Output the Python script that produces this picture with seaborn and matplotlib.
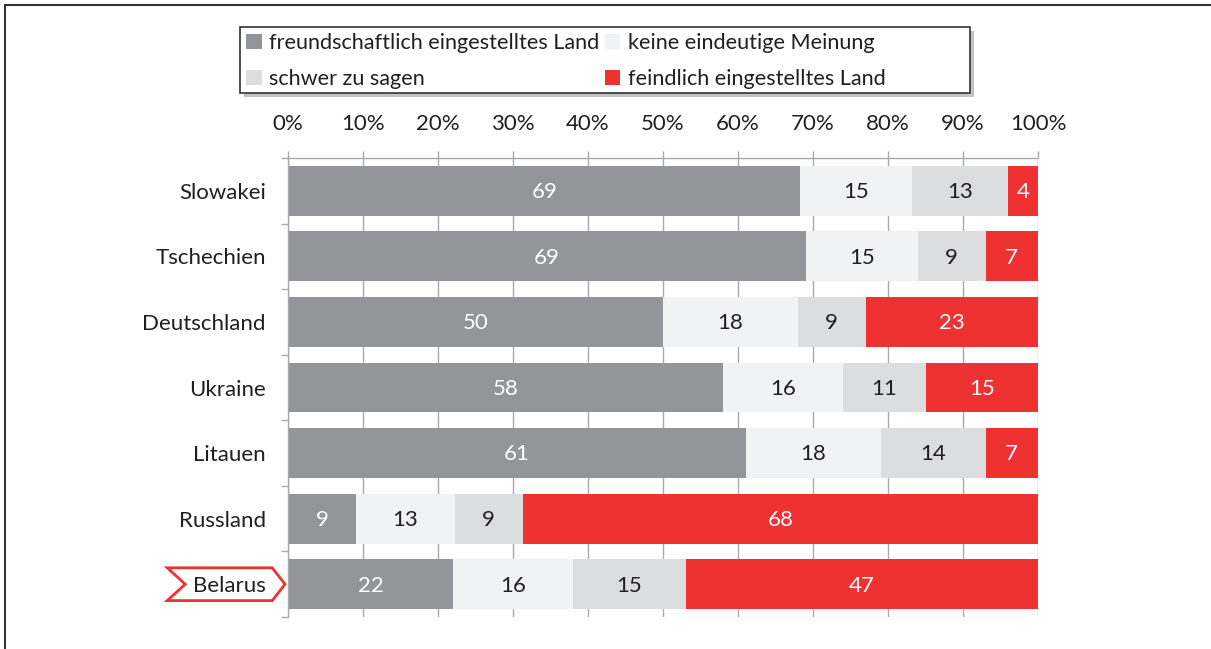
import matplotlib

matplotlib.use("Agg")
import matplotlib.pyplot as plt
import matplotlib.patches as mpatches
import matplotlib.transforms as mtransforms
from matplotlib.lines import Line2D
from matplotlib.ticker import FixedLocator, FuncFormatter, MultipleLocator
import numpy as np
import pandas as pd
import seaborn as sns

countries = ["Slowakei", "Tschechien", "Deutschland", "Ukraine", "Litauen", "Russland", "Belarus"]
categories = [
    "freundschaftlich eingestelltes Land",
    "keine eindeutige Meinung",
    "schwer zu sagen",
    "feindlich eingestelltes Land",
]
friendly = [69, 69, 50, 58, 61, 9, 22]
unclear = [15, 15, 18, 16, 18, 13, 16]
hard_to_say = [13, 9, 9, 11, 14, 9, 15]
hostile = [4, 7, 23, 15, 7, 68, 47]
highlight = "Belarus"

colors = ["#939598", "#F1F2F3", "#DCDDDE", "#EE3131"]
label_colors = ["white", "#231F20", "#231F20", "white"]
grey = "#A7A9AC"
dark = "#231F20"

sns.set_theme(style="white")
plt.rcParams["font.family"] = ["Lato", "DejaVu Sans"]

values = np.array([friendly, unclear, hard_to_say, hostile], dtype=float).T
share = values / values.sum(axis=1, keepdims=True) * 100
cum = share.cumsum(axis=1)
df = pd.DataFrame(cum, columns=[f"cum{k}" for k in range(4)])
df["country"] = countries

fig = plt.figure(figsize=(12.11, 6.49), dpi=100)
W, H = 1211, 649
ax = fig.add_axes([288 / W, 1 - 617 / H, 750 / W, 459 / H])
ax.set_axisbelow(True)

# stacked bars: draw cumulative totals from the right-most segment backwards
for k in reversed(range(4)):
    sns.barplot(data=df, x=f"cum{k}", y="country", orient="h", color=colors[k],
                width=0.76, saturation=1, linewidth=0, errorbar=None, ax=ax)

for i in range(len(countries)):
    start = 0.0
    for k in range(4):
        ax.text(start + share[i, k] / 2, i + 0.02, f"{values[i, k]:.0f}", ha="center", va="center",
                color=label_colors[k], fontsize=16)
        start += share[i, k]

ax.set_xlim(0, 100)
ax.set_ylim(6.5, -0.5)
ax.set_xlabel("")
ax.set_ylabel("")
ax.xaxis.tick_top()
ax.xaxis.set_major_locator(MultipleLocator(10))
ax.xaxis.set_major_formatter(FuncFormatter(lambda x, _: f"{x:.0f}%"))
ax.tick_params(axis="x", which="major", direction="out", length=5, width=1, color=grey,
               pad=12, labelsize=16, labelcolor=dark, top=True, bottom=False)
ax.grid(axis="x", color=grey, linewidth=1)
ax.grid(axis="y", visible=False)

ax.yaxis.set_minor_locator(FixedLocator(np.arange(-0.5, 7, 1)))
ax.tick_params(axis="y", which="minor", direction="out", length=5, width=1, color=grey, left=True)
ax.tick_params(axis="y", which="major", length=0, pad=16, labelsize=16, labelcolor=dark)

for side in ["bottom", "right"]:
    ax.spines[side].set_visible(False)
for side in ["top", "left"]:
    ax.spines[side].set_color(grey)
    ax.spines[side].set_linewidth(1)

# arrow-shaped marker around the highlighted country label
row = countries.index(highlight)
trans = mtransforms.blended_transform_factory(ax.transAxes, ax.transData)
arrow = mpatches.Polygon(
    [(-0.161, row - 0.25), (-0.021, row - 0.25), (-0.004, row), (-0.021, row + 0.25),
     (-0.161, row + 0.25), (-0.137, row)],
    closed=True, facecolor="none", edgecolor="#EE3131", linewidth=2,
    transform=trans, clip_on=False)
ax.add_patch(arrow)

# legend with framed box and drop shadow
handles = [mpatches.Patch(facecolor=c, edgecolor="none") for c in colors]
order = [0, 2, 1, 3]
fig.legend([handles[i] for i in order], [categories[i] for i in order], ncol=2,
           loc="upper left", bbox_to_anchor=(242 / W, 1 - 29 / H), frameon=False,
           fontsize=15.6, handlelength=0.7, handleheight=0.7, handletextpad=0.35,
           columnspacing=0.25, labelspacing=0.72, borderpad=0.2, borderaxespad=0,
           labelcolor=dark)
fig.add_artist(mpatches.Rectangle((244 / W, 1 - 97 / H), 730 / W, 66 / H, transform=fig.transFigure,
                                  facecolor="#9a9a9a", edgecolor="none", alpha=0.6, zorder=0))
fig.add_artist(mpatches.Rectangle((240 / W, 1 - 93 / H), 730 / W, 66 / H, transform=fig.transFigure,
                                  facecolor="white", edgecolor="#333333", linewidth=1.2, zorder=0.5))

# outer frame on top and left
fig.add_artist(Line2D([5 / W, 1], [1 - 5 / H, 1 - 5 / H], transform=fig.transFigure,
                      color="#333333", linewidth=1.5))
fig.add_artist(Line2D([5 / W, 5 / W], [0, 1 - 5 / H], transform=fig.transFigure,
                      color="#333333", linewidth=1.5))

fig.savefig("out.png", dpi=100)
